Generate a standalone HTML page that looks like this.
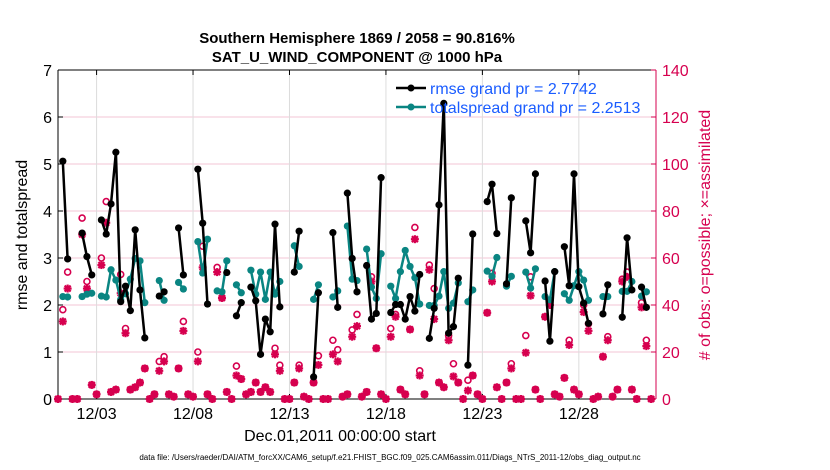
<!DOCTYPE html>
<html><head><meta charset="utf-8"><style>
body{margin:0;background:#fff;}
svg{display:block;font-family:"Liberation Sans",Arial,sans-serif;}
</style></head><body>
<svg id="chart" width="830" height="470">
<text x="357" y="43" text-anchor="middle" font-size="15" font-weight="bold">Southern Hemisphere 1869 / 2058 = 90.816%</text>
<text x="357" y="62" text-anchor="middle" font-size="15" font-weight="bold">SAT_U_WIND_COMPONENT @ 1000 hPa</text>
<g id="grid"></g>
<g id="axes"></g>
<g id="marks"></g>
<text transform="translate(27,235) rotate(-90)" text-anchor="middle" font-size="16">rmse and totalspread</text>
<text transform="translate(710,235) rotate(-90)" text-anchor="middle" font-size="16" fill="#d6004f"># of obs: o=possible; ×=assimilated</text>
<text x="340" y="441" text-anchor="middle" font-size="16">Dec.01,2011 00:00:00 start</text>
<text x="390" y="460" text-anchor="middle" font-size="8">data file: /Users/raeder/DAI/ATM_forcXX/CAM6_setup/f.e21.FHIST_BGC.f09_025.CAM6assim.011/Diags_NTrS_2011-12/obs_diag_output.nc</text>
<g>
<g>
<line x1="396" y1="88" x2="426" y2="88" stroke="#000" stroke-width="2.5"/>
<circle cx="411" cy="88" r="3.5" fill="#000"/>
<text x="430" y="94" font-size="16" fill="#1a5cff">rmse grand pr = 2.7742</text></g>
<g>
<line x1="396" y1="107" x2="426" y2="107" stroke="#0a8582" stroke-width="2.5"/>
<circle cx="411" cy="107" r="3.5" fill="#0a8582"/>
<text x="430" y="113" font-size="16" fill="#1a5cff">totalspread grand pr = 2.2513</text></g>
</g>
</svg>
<script>
const xTickLabels=["12/03","12/08","12/13","12/18","12/23","12/28"];
const xTickDays=[3,8,13,18,23,28];
const yLeftTicks=[0,1,2,3,4,5,6,7];
const yRightTicks=[0,20,40,60,80,100,120,140];
const rmseT=[1,2,5,6,7,9,10,11,12,13,14,15,16,17,18,21,22,25,26,29,30,31,35,37,38,40,41,42,43,44,45,46,49,50,53,54,57,58,60,61,62,64,65,66,67,69,70,71,72,73,74,75,77,78,79,80,81,82,83,85,86,89,90,91,93,94,97,98,99,101,102,103,105,106,107,108,109,110,113,114,117,118,119,121,122];
const rmseV=[5.06,2.98,3.53,3.03,2.64,3.81,3.51,4.15,5.25,2.07,2.40,1.88,3.6,2.32,1.30,2.19,2.28,3.64,2.64,4.89,3.74,2.02,2.69,1.77,2.05,2.38,2.09,0.95,1.70,1.43,3.72,1.96,2.70,3.57,0.47,2.26,3.54,1.95,4.38,2.99,2.28,2.84,1.70,1.82,4.71,1.84,2.01,2.01,1.70,2.18,1.87,2.65,1.29,1.93,4.13,6.29,1.40,1.54,2.57,0.72,3.51,4.20,4.57,3.52,2.45,4.28,3.79,3.11,4.79,2.51,1.23,2.71,3.24,2.41,4.79,2.39,2.04,1.61,1.81,2.43,1.74,3.43,2.32,2.38,1.95];
const spreadT=[1,2,5,6,7,9,10,11,12,13,14,15,16,17,18,21,22,25,26,29,30,31,33,34,35,37,38,40,41,42,43,44,45,46,49,50,53,54,57,58,60,61,62,64,65,66,67,69,70,71,72,73,74,75,77,78,79,80,81,82,83,85,86,89,90,91,93,94,97,98,99,101,102,103,105,106,107,108,109,110,113,114,117,118,119,121,122];
const spreadV=[2.18,2.17,2.18,2.23,2.25,2.19,2.17,2.75,2.53,2.12,2.24,2.55,2.99,2.94,2.05,2.52,2.1,2.48,2.34,3.35,2.68,3.40,2.30,2.28,2.94,2.43,2.26,2.74,2.23,2.70,2.12,2.70,2.23,2.50,3.26,2.82,2.12,2.43,2.17,2.30,3.68,2.55,2.52,3.19,2.38,2.14,3.09,2.40,2.14,2.71,3.16,2.82,2.58,2.02,1.99,1.99,2.19,2.71,1.93,2.04,2.47,2.07,2.32,2.72,2.61,3.01,2.40,2.61,2.70,2.36,2.77,2.18,2.11,2.71,2.24,2.10,2.41,2.71,2.53,2.10,2.18,2.18,2.29,2.29,2.50,2.19,2.28];
const nAssim=[0,33,47,0,0,70,47,6,2,57,75,3,4,45,28,4,5,7,13,0,2,12,16,2,1,13,29,2,1,16,56,2,0,54,43,3,0,10,8.5,2,3,7,3,5,3,19,12,0,0,7,13,1,0,7,14.5,0,0,19,16,1,2,26.5,31,1,3,50,21.6,2,0,26.5,35,4,2,29.6,68,10,2,55,34,7,5,25,9.6,7,0,3.6,10,2,0,36.7,50,5,0,7,13,0,0,19.7,44,4,0,35,40,2,1,9,23,4,2,37,29,0,1,18,25,1,4,50,52,4,0,39,22.5,0];
const nPossExtraT=[1,2,5,6,9,10,13,14,21,22,26,29,30,33,37,45,46,50,54,57,58,61,62,65,69,70,74,75,77,78,81,82,85,90,94,97,98,102,106,109,110,114,117,118,121,122];
const nPossExtraV=[38,54,77,50,60,84,53,30,16,18,33,20,65,56,14,21.6,14.4,14.4,18.4,25,21,29.4,36,52,30,36,73,12,57,47,27,15,8,53.5,15,27,52,42,25,40,32,26.5,51,54,41,25];

const X0=58,X1=656,Y0=399,Y1=70,DAYS=31;
const xDay=d=>X0+(d-1)/DAYS*(X1-X0);
const xT=t=>X0+t/4/DAYS*(X1-X0)+4.82*0;
const yL=v=>Y0-v/7*(Y0-Y1);
const yR=v=>Y0-v/140*(Y0-Y1);
const NS="http://www.w3.org/2000/svg";
function mk(tag,attrs,parent){const e=document.createElementNS(NS,tag);for(const k in attrs)e.setAttribute(k,attrs[k]);parent.appendChild(e);return e;}
const grid=document.getElementById('grid'),axes=document.getElementById('axes'),marks=document.getElementById('marks');
// gridlines
yRightTicks.forEach(v=>{const l=mk('line',{x1:X0,x2:X1,y1:yR(v),y2:yR(v),stroke:'#f3c6d6','stroke-width':1},grid);

});
xTickDays.forEach(d=>{const l=mk('line',{x1:xDay(d),x2:xDay(d),y1:Y1,y2:Y0,stroke:'#dcdcdc','stroke-width':1},grid);

});
// axes box
mk('line',{x1:X0,x2:X1,y1:Y1,y2:Y1,stroke:'#000'},axes);
mk('line',{x1:X0,x2:X1,y1:Y0,y2:Y0,stroke:'#000'},axes);
mk('line',{x1:X0,x2:X0,y1:Y1,y2:Y0,stroke:'#000'},axes);
mk('line',{x1:X1,x2:X1,y1:Y1,y2:Y0,stroke:'#d6004f'},axes);
yLeftTicks.forEach(v=>{mk('line',{x1:X0,x2:X0+5,y1:yL(v),y2:yL(v),stroke:'#000'},axes);
const t=mk('text',{x:X0-6,y:yL(v)+6,'text-anchor':'end','font-size':16},axes);t.textContent=v;

});
yRightTicks.forEach(v=>{mk('line',{x1:X1-5,x2:X1,y1:yR(v),y2:yR(v),stroke:'#d6004f'},axes);
const t=mk('text',{x:X1+6,y:yR(v)+6,'font-size':16,fill:'#d6004f'},axes);t.textContent=v;

});
xTickDays.forEach((d,i)=>{mk('line',{x1:xDay(d),x2:xDay(d),y1:Y0,y2:Y0-5,stroke:'#000'},axes);
mk('line',{x1:xDay(d),x2:xDay(d),y1:Y1,y2:Y1+5,stroke:'#000'},axes);
const t=mk('text',{x:xDay(d),y:Y0+20,'text-anchor':'middle','font-size':16},axes);t.textContent=xTickLabels[i];

});
// obs counts
const nPoss=nAssim.slice();nPossExtraT.forEach((t,i)=>{nPoss[t]=nPossExtraV[i];});
nPoss.forEach((v,t)=>{const c=mk('circle',{cx:xT(t),cy:yR(v),r:3,fill:'none',stroke:'#d6004f','stroke-width':1.6},marks);

});
nAssim.forEach((v,t)=>{const x=xT(t),y=yR(v),r=4;
const g=mk('g',{stroke:'#d6004f','stroke-width':2.2},marks);


mk('line',{x1:x-r,x2:x+r,y1:y,y2:y},g);mk('line',{x1:x,x2:x,y1:y-r,y2:y+r},g);
mk('line',{x1:x-3,x2:x+3,y1:y-3,y2:y+3},g);mk('line',{x1:x-3,x2:x+3,y1:y+3,y2:y-3},g);});
// line series with gaps
function series(T,V,color,name){
 let d='';T.forEach((t,i)=>{const cont=i>0&&T[i-1]===t-1;d+=(cont?'L':'M')+xT(t).toFixed(1)+' '+yL(V[i]).toFixed(1);});
 const p=mk('path',{d:d,fill:'none',stroke:color,'stroke-width':2.5,'stroke-linejoin':'round'},marks);
 
 
 T.forEach((t,i)=>{const c=mk('circle',{cx:xT(t),cy:yL(V[i]),r:3.6,fill:color},marks);
 
 });
}
series(spreadT,spreadV,'#0a8582','totalspread');
series(rmseT,rmseV,'#000','rmse');
</script>
</body></html>
